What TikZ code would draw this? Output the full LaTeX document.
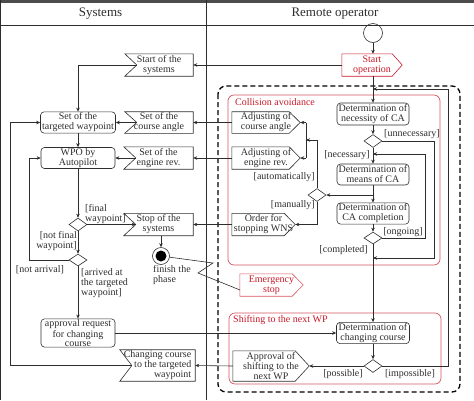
\documentclass[tikz,border=0pt]{standalone}
\usepackage{fontspec}
\setmainfont{Liberation Serif}
\usetikzlibrary{shapes.geometric,arrows.meta,calc}
\definecolor{lc}{RGB}{45,45,45}
\definecolor{ared}{RGB}{200,25,40}
\definecolor{aredl}{RGB}{212,85,95}
\newcommand{\mksend}[3]{\draw[draw=#3, line width=0.6pt] (#1.north west) -- ($(#1.north east)+(-#2,0)$) -- (#1.east) -- ($(#1.south east)+(-#2,0)$) -- (#1.south west) -- cycle;}
\newcommand{\mkrecv}[2]{\coordinate (#1-notch) at ($(#1.west)+(#2,0)$);\draw[draw=lc, line width=0.6pt] (#1.north west) -- (#1.north east) -- (#1.south east) -- (#1.south west) -- (#1-notch) -- cycle;}
\begin{document}
\begin{tikzpicture}[x=1pt,y=-1pt,
  txt/.style={font=\fontsize{10}{10}\selectfont, inner sep=1pt, text=lc},
  act/.style={txt, draw=lc, line width=0.6pt, rounded corners=3.5pt, align=center},
  sig/.style={txt, align=center},
  dec/.style={diamond, draw=lc, line width=0.6pt, minimum width=18pt, minimum height=13pt, inner sep=0pt},
  arr/.style={draw=lc, line width=0.6pt, -{Stealth[length=4pt,width=3.5pt]}},
  ln/.style={draw=lc, line width=0.6pt},
  lbl/.style={txt},
  grp/.style={draw=aredl, line width=0.7pt, rounded corners=6pt},
  grplbl/.style={txt, text=ared},
  hdr/.style={font=\fontsize{13}{15}\selectfont, text=lc},
  dgrp/.style={draw=black, line width=1.3pt, dash pattern=on 5pt off 3pt, rounded corners=8pt}
]
\useasboundingbox (0,0) rectangle (474,400);
% frame
\fill[gray!60!black] (0,0) rectangle (474,2.5);
\draw[lc, line width=0.8pt] (0,25) -- (474,25);
\draw[lc, line width=0.8pt] (206,0) -- (206,400);
\draw[lc, line width=0.8pt] (0.5,0) -- (0.5,400);
\node[hdr] (hsys) at (100.5,14) {Systems};
\node[hdr] (hrem) at (335,14) {Remote operator};
% groups
\draw[dgrp] (218,86) rectangle (460,392);
\draw[grp] (228,95) rectangle (440,265);
\draw[grp] (229,313) rectangle (441,384);
\node[grplbl, anchor=west] (lca) at (234,102) {Collision avoidance};
\node[grplbl, anchor=west] (lsh) at (232,320) {Shifting to the next WP};
% systems lane
\node[act, minimum width=75pt, minimum height=21pt] (tgt) at (78,122.5) {Set of the\\targeted waypoint};
\node[act, minimum width=74pt, minimum height=21pt] (wpo) at (78,158) {WPO by\\Autopilot};
\node[dec] (d1) at (78,224.5) {};
\node[dec, minimum height=12pt] (d2) at (78,260) {};
\node[act, minimum width=74pt, minimum height=26pt, font=\fontsize{10}{9}\selectfont] (appr) at (78,333) {approval request\\for changing\\course};
\node[sig, minimum width=68pt, minimum height=22pt] (startsys) at (159,65) {Start of the\\systems};
\mkrecv{startsys}{12}
\node[sig, minimum width=68pt, minimum height=21pt] (setca) at (159,122.5) {Set of the\\course angle};
\mkrecv{setca}{12}
\node[sig, minimum width=69pt, minimum height=22pt] (seteng) at (158.5,158) {Set of the\\engine rev.};
\mkrecv{seteng}{12}
\node[sig, minimum width=69pt, minimum height=22pt] (stopsys) at (158.5,224.5) {Stop of the\\systems};
\mkrecv{stopsys}{12}
\node[sig, align=right, minimum width=75pt, minimum height=29pt] (chg) at (157.5,365.5) {Changing course\\to the targeted\\waypoint};
\mkrecv{chg}{12}
\node[circle, draw=lc, line width=0.6pt, minimum size=17pt, inner sep=0pt] (fin) at (161,256) {};
\fill[black] (fin.center) circle (5.5pt);
\node[lbl, anchor=west, align=left] (lfin) at (152,275.5) {finish the\\phase};
% operator lane
\node[circle, draw=lc, line width=0.6pt, minimum size=19pt, inner sep=0pt] (init) at (373,33) {};
\node[sig, text=ared, minimum width=60pt, minimum height=22pt] (startop) at (372,65) {Start\\operation};
\mksend{startop}{10}{ared}
\node[act, minimum width=72pt, minimum height=22pt] (dnec) at (373,114) {Determination of\\necessity of CA};
\node[dec] (dA) at (373,141) {};
\node[act, minimum width=72pt, minimum height=21pt] (dmeans) at (373,174.5) {Determination of\\means of CA};
\node[act, minimum width=72pt, minimum height=21pt] (dcomp) at (373,213.5) {Determination of\\CA completion};
\node[dec, minimum height=12pt] (dC) at (373,238) {};
\node[dec] (dB) at (317,195) {};
\node[sig, minimum width=68pt, minimum height=21pt] (adjca) at (266,122.5) {Adjusting of\\course angle};
\mksend{adjca}{11}{lc}
\node[sig, minimum width=68pt, minimum height=22pt] (adjeng) at (266,158) {Adjusting of\\engine rev.};
\mksend{adjeng}{11}{lc}
\node[sig, minimum width=63pt, minimum height=22pt] (order) at (263.5,224.5) {Order for\\stopping WNS};
\mksend{order}{11}{lc}
\node[sig, text=ared, minimum width=63pt, minimum height=22pt] (emerg) at (271.5,285) {Emergency\\stop};
\mksend{emerg}{11}{aredl}
\node[act, minimum width=73pt, minimum height=21pt] (dchg) at (373,333) {Determination of\\changing course};
\node[dec] (dD) at (373,366) {};
\node[sig, minimum width=76pt, minimum height=30pt] (apprsh) at (271,366) {Approval of\\shifting to the\\next WP};
\mksend{apprsh}{14}{lc}
% helper coordinates
\coordinate (m1) at (373,89);
\coordinate (c1) at (448,89);
\coordinate (m2) at (373,154);
\coordinate (c2) at (425,154);
\coordinate (m3) at (373,258);
\coordinate (c3) at (434,258);
\coordinate (m4) at (373,195);
\coordinate (jn) at (306,140);
\coordinate (l1) at (29,158);
\coordinate (l2) at (10,122.5);
\coordinate (z0) at (240,290);
\coordinate (z1) at (198,273);
\coordinate (z2) at (213,263);
% connectors: operator
\draw[arr] (init) -- (init |- startop.north);
\draw[arr] (init |- startop.south) -- (dnec.north);
\draw[arr] (dnec) -- (dA);
\draw[arr] (dA) -- (dmeans);
\draw[arr] (dA.east) -| (c3) -- (m3);
\draw[arr] (dmeans) -- (dcomp);
\draw[arr] (m4) -- (dB.east);
\draw[arr] (dB.north) |- (jn);
\draw[ln] (jn |- adjca.east) -- (jn |- adjeng.east);
\draw[arr] (jn |- adjca.east) -- (adjca.east);
\draw[arr] (jn |- adjeng.east) -- (adjeng.east);
\draw[arr] (dB.south) |- (order.east);
\draw[arr] (dcomp) -- (dC);
\draw[arr] (dC.east) -| (c2) -- (m2);
\draw[arr] (dC) -- (dchg);
\draw[arr] (dchg) -- (dD);
\draw[arr] (dD.west) -- (apprsh.east);
\draw[arr] (dD.east) -| (c1) -- (m1);
% connectors: across lanes
\draw[arr] (startop.west) -- (startsys.east);
\draw[arr] (adjca.west) -- (setca.east);
\draw[arr] (adjeng.west) -- (seteng.east);
\draw[arr] (order.west) -- (stopsys.east);
\draw[arr] (appr.east) -- (dchg.west);
\draw[arr] (apprsh.west) -- (chg.east);
\draw[ln] (z0) -- (z1) -- (z2) -- (fin);
% connectors: systems
\draw[arr] (startsys-notch) -| (tgt.north);
\draw[arr] (setca-notch) -- (tgt.east);
\draw[arr] (tgt) -- (wpo);
\draw[arr] (seteng-notch) -- (wpo.east);
\draw[arr] (wpo) -- (d1);
\draw[arr] (d1.east) -- (stopsys-notch);
\draw[arr] (stopsys.south -| fin) -- (fin);
\draw[arr] (d1) -- (d2);
\draw[arr] (d2.west) -| (l1) -- (wpo.west);
\draw[arr] (d2) -- (appr);
\draw[arr] (chg-notch) -| (l2) -- (tgt.west);
% guard labels
\node[lbl] (gunn) at (412,134) {[unnecessary]};
\node[lbl, anchor=east] (gnec) at (371,155) {[necessary]};
\node[lbl, anchor=east] (gaut) at (316,177) {[automatically]};
\node[lbl, anchor=east] (gman) at (316,205) {[manually]};
\node[lbl] (gong) at (403,232) {[ongoing]};
\node[lbl, anchor=east] (gcom) at (369,250) {[completed]};
\node[lbl] (gpos) at (343,374) {[possible]};
\node[lbl] (gimp) at (410,374) {[impossible]};
\node[lbl, anchor=west, align=left] (gfin) at (84,214) {[final\\waypoint]};
\node[lbl, anchor=east, align=right] (gnfin) at (78,241.5) {[not final\\waypoint]};
\node[lbl] (gnarr) at (40,270) {[not arrival]};
\node[lbl, anchor=west, align=left] (garr) at (80,283) {[arrived at\\the targeted\\waypoint]};
\end{tikzpicture}
\end{document}
